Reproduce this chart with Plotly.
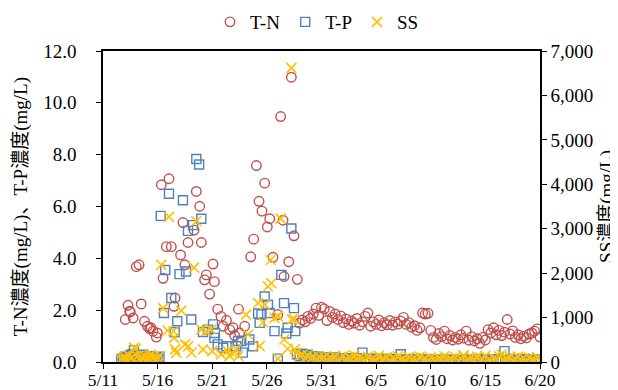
import pandas as pd
import plotly.graph_objects as go

# ---------------- data ----------------
start_date = "2023-05-11"
tick_days = [0, 5, 10, 15, 20, 25, 30, 35, 40]
tick_labels = ["5/11", "5/16", "5/21", "5/26", "5/31", "6/5", "6/10", "6/15", "6/20"]

# T-N (mg/L): irregular samples (days after 5/11 00:00)
tn_event_day = [2.04, 2.29, 2.44, 2.5, 2.75, 3.05, 3.3, 3.5, 3.8, 4.06, 4.27, 4.4, 4.58, 4.88, 4.97,
                5.34, 5.5, 5.8, 6.04, 6.25, 6.5, 6.6, 7.1, 7.32, 7.5, 7.78, 8.33, 8.54, 8.85, 9.0,
                9.3, 9.46, 9.76, 10.07, 10.2, 10.5, 10.8, 11.0, 11.3, 11.6, 11.9, 12.05, 12.4, 12.5,
                12.97, 13.52, 13.79, 14.04, 14.28, 14.55, 14.8, 15.04, 15.26, 15.56, 16.0, 16.26,
                16.48, 16.57, 17.0, 17.24, 17.48, 17.79]
tn_event_val = [1.64, 2.19, 1.96, 1.93, 1.70, 3.68, 3.75, 2.24, 1.57, 1.38, 1.29, 1.32, 1.19, 0.96, 1.12,
                6.84, 3.23, 4.45, 7.07, 4.45, 2.15, 2.47, 4.13, 5.38, 3.75, 4.61, 5.09, 6.58, 6.01, 4.61,
                3.17, 3.36, 2.62, 3.78, 3.10, 2.04, 1.76, 1.38, 1.61, 1.25, 1.32, 1.02, 2.04, 1.12,
                1.38, 4.06, 4.74, 7.58, 6.20, 5.82, 6.90, 5.21, 5.53, 4.04, 1.83, 9.47,
                5.47, 3.30, 3.87, 10.99, 4.87, 3.19]
# T-N regular samples every 6 h from day 18.0
tn_reg_start = 18.0
tn_reg_val = [1.50, 1.62, 1.55, 1.76, 1.68, 1.85, 2.08, 1.80, 2.11, 2.05, 1.60, 1.95, 1.72, 1.85, 1.64,
              1.78, 1.52, 1.66, 1.45, 1.58, 1.50, 1.68, 1.42, 1.55, 1.76, 1.89, 1.38, 1.55, 1.45, 1.62,
              1.40, 1.52, 1.44, 1.60, 1.42, 1.55, 1.46, 1.58, 1.72, 1.45, 1.52, 1.34, 1.40, 1.22, 1.32,
              1.89, 1.85, 1.88, 1.22, 0.95, 0.87, 1.10, 0.98, 1.19, 0.90, 1.02, 0.85, 0.95, 0.88, 1.05,
              0.92, 1.19, 0.84, 0.98, 0.81, 0.90, 0.72, 0.95, 0.85, 1.25, 1.12, 1.32, 1.05, 1.22, 1.02,
              1.15, 1.64, 1.08, 1.20, 0.95, 1.05, 0.90, 1.00, 0.93, 1.08, 1.12, 1.19, 1.28, 0.96]

# T-P (mg/L)
tp_base_start = 1.667
tp_base_val = [0.12, 0.15, 0.20, 0.10, 0.18, 0.25, 0.30, 0.45, 0.22, 0.15, 0.12, 0.20, 0.28, 0.18,
               0.10, 0.15, 0.22, 0.12, 0.18, 0.10, 0.15, 0.20]
tp_event_day = [5.28, 5.58, 5.7, 6.04, 6.25, 6.56, 6.8, 7.0, 7.32, 7.6, 7.78, 8.08, 8.24, 8.54, 8.8,
                9.0, 9.15, 9.6, 10.07, 10.2, 10.25, 10.5, 11.0, 11.3, 12.2, 12.36, 12.65, 12.8, 13.4,
                13.73, 14.2, 14.34, 14.5, 14.8, 15.1, 15.26, 15.7, 16.0, 16.32, 16.57, 16.78, 16.9,
                17.24, 17.48, 17.6]
tp_event_val = [5.64, 1.89, 3.55, 6.49, 2.47, 1.15, 1.57, 3.39, 6.24, 3.49, 5.06, 1.64, 5.28, 7.83, 7.62,
                5.53, 1.16, 1.25, 1.45, 0.93, 1.12, 0.68, 0.55, 0.61, 0.61, 0.81, 0.81, 0.36, 0.87,
                0.61, 1.87, 1.51, 1.83, 2.53, 2.21, 1.89, 1.19, 0.13, 3.36, 2.27, 1.10, 1.32,
                5.15, 2.08, 1.19]
tp_reg_start = 17.75
tp_reg_val = [0.30, 0.22, 0.32, 0.26, 0.28, 0.20, 0.22, 0.16, 0.20, 0.12, 0.18, 0.08, 0.17, 0.10, 0.18,
              0.06, 0.14, 0.09, 0.13, 0.05, 0.14, 0.08, 0.15, 0.06, 0.36, 0.07, 0.13, 0.05, 0.12, 0.04,
              0.13, 0.06, 0.11, 0.03, 0.12, 0.06, 0.10, 0.04, 0.30, 0.05, 0.10, 0.07, 0.09, 0.03, 0.10,
              0.05, 0.09, 0.02, 0.10, 0.05, 0.08, 0.03, 0.09, 0.06, 0.08, 0.02, 0.09, 0.05, 0.08, 0.03,
              0.07, 0.04, 0.10, 0.02, 0.08, 0.05, 0.09, 0.03, 0.11, 0.04, 0.08, 0.06, 0.10, 0.03, 0.11,
              0.06, 0.42, 0.05, 0.09, 0.03, 0.10, 0.05, 0.11, 0.04, 0.08, 0.06, 0.10, 0.03, 0.10, 0.05]

# SS (mg/L)
ss_base_start = 1.667
ss_base_val = [60, 90, 120, 40, 150, 80, 100, 320, 297, 130, 60, 110, 70, 140, 50, 90, 160, 80,
               120, 60, 100, 140]
ss_event_day = [5.34, 5.5, 5.9, 6.04, 6.45, 6.5, 6.6, 6.7, 7.17, 7.5, 7.8, 8.1, 8.33, 8.54, 9.0, 9.15,
                9.46, 9.9, 10.0, 10.8, 11.4, 11.6, 11.8, 12.2, 12.4, 13.1, 13.27, 14.2, 14.34, 14.65,
                14.8, 15.1, 15.34, 15.4, 15.7, 16.0, 16.02, 16.26, 16.6, 16.9, 17.24, 17.3, 17.48, 17.55]
ss_event_val = [2185, 1214, 709, 3265, 693, 543, 284, 208, 1156, 396, 358, 208, 2124, 3168, 731, 284,
                693, 731, 246, 172, 246, 134, 208, 284, 134, 1066, 619, 1326, 358, 894,
                1290, 1699, 2296, 1773, 990, 74, 1028, 3227, 507, 297, 6619, 955, 968, 284]
ss_reg_start = 17.75
ss_reg_val = [208, 140, 170, 90, 150, 60, 130, 40, 120, 70, 110, 30, 100, 60, 130, 20, 90, 140, 40, 110,
              60, 150, 30, 100, 70, 20, 120, 50, 90, 30, 140, 40, 80, 110, 20, 90, 60, 130, 40, 70,
              20, 110, 50, 90, 30, 120, 40, 80, 20, 100, 60, 30, 90, 50, 130, 20, 70, 40, 110, 30,
              80, 150, 20, 60, 100, 40, 120, 30, 70, 140, 50, 20, 90, 60, 130, 170, 40, 80, 110, 30,
              70, 120, 40, 90, 20, 100, 60, 30, 110, 50]

# ---------------- build ----------------
base = pd.Timestamp(start_date)


def days_to_dt(days):
    return [base + pd.Timedelta(days=float(d)) for d in days]


def regular(start, values, step_hours):
    return [base + pd.Timedelta(days=start) + pd.Timedelta(hours=step_hours * i) for i in range(len(values))]


tn_x = days_to_dt(tn_event_day) + regular(tn_reg_start, tn_reg_val, 6)
tn_y = tn_event_val + tn_reg_val
tp_x = regular(tp_base_start, tp_base_val, 4) + days_to_dt(tp_event_day) + regular(tp_reg_start, tp_reg_val, 6)
tp_y = tp_base_val + tp_event_val + tp_reg_val
ss_x = regular(ss_base_start, ss_base_val, 4) + days_to_dt(ss_event_day) + regular(ss_reg_start, ss_reg_val, 6)
ss_y = ss_base_val + ss_event_val + ss_reg_val

FONT = "Liberation Serif, Noto Sans CJK JP, serif"
FS = 19
RED = "#C0504D"
BLUE = "#4F81BD"
GOLD = "#FFC000"

fig = go.Figure()
fig.add_trace(go.Scatter(x=tn_x, y=tn_y, mode="markers", name="T-N",
                         marker=dict(symbol="circle-open", size=9.5, color=RED, line=dict(width=1.4, color=RED))))
fig.add_trace(go.Scatter(x=tp_x, y=tp_y, mode="markers", name="T-P",
                         marker=dict(symbol="square-open", size=9, color=BLUE, line=dict(width=1.4, color=BLUE))))
fig.add_trace(go.Scatter(x=ss_x, y=ss_y, mode="markers", name="SS", yaxis="y2",
                         marker=dict(symbol="x-thin", size=10, color=GOLD, line=dict(width=1.6, color=GOLD))))

tick_vals = days_to_dt(tick_days)

fig.update_layout(
    width=618, height=390,
    margin=dict(l=95, r=86, t=43, b=36, autoexpand=False),
    paper_bgcolor="white", plot_bgcolor="white",
    font=dict(family=FONT, size=FS, color="black"),
    showlegend=True,
    legend=dict(orientation="h", xref="container", x=0.5, xanchor="center",
                yref="container", y=1 - 14 / 390, yanchor="middle",
                font=dict(family=FONT, size=FS), itemwidth=30, tracegroupgap=0,
                bgcolor="rgba(0,0,0,0)"),
    xaxis=dict(range=[tick_vals[0], tick_vals[-1]], tickmode="array", tickvals=tick_vals,
               ticktext=tick_labels, showgrid=False, zeroline=False, showline=True,
               linecolor="black", linewidth=1.5, mirror=True, ticks="outside", ticklen=5,
               tickcolor="black", tickwidth=1.2, automargin=False, ticklabelstandoff=-4,
               tickfont=dict(family=FONT, size=17.5)),
    yaxis=dict(range=[0, 12], dtick=2, tickformat=".1f", showgrid=False, zeroline=False,
               showline=True, linecolor="black", linewidth=1.5, ticks="outside", ticklen=5,
               tickcolor="black", tickwidth=1.2, automargin=False, ticklabelstandoff=16),
    yaxis2=dict(range=[0, 7000], dtick=1000, tickformat=",d", overlaying="y", side="right",
                showgrid=False, zeroline=False, showline=True, linecolor="black", linewidth=1.5,
                ticks="outside", ticklen=5, tickcolor="black", tickwidth=1.2, automargin=False),
    annotations=[
        dict(text="T-N濃度(mg/L)、T-P濃度(mg/L)", xref="paper", yref="paper", x=-0.188, y=0.5,
             textangle=-90, showarrow=False, xanchor="center", yanchor="middle",
             font=dict(family=FONT, size=FS)),
        dict(text="SS濃度(mg/L)", xref="paper", yref="paper", x=1.152, y=0.5,
             textangle=-90, showarrow=False, xanchor="center", yanchor="middle",
             font=dict(family=FONT, size=FS)),
    ],
)

fig.write_html("out.html")
